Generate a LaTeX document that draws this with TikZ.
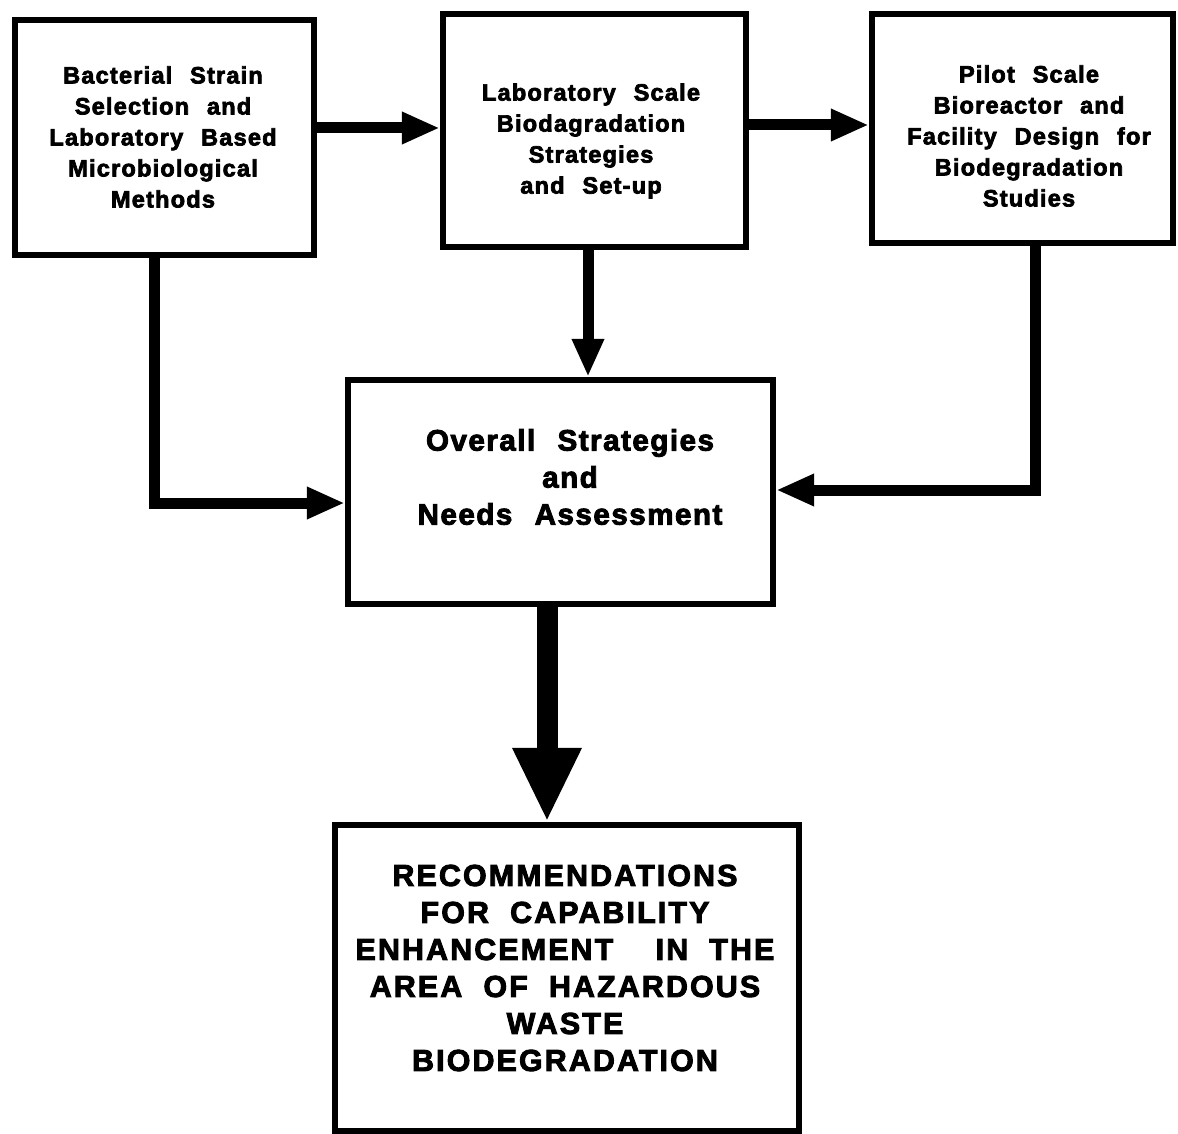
\documentclass[tikz,border=0pt]{standalone}
\usepackage{fontspec}
\usetikzlibrary{arrows.meta}
\newfontfamily\heavy[LetterSpace=5,WordSpace=2.3,BoldFeatures={FakeBold=3}]{Liberation Sans}
\newfontfamily\heavycaps[LetterSpace=7,WordSpace=2,BoldFeatures={FakeBold=3}]{Liberation Sans}
\begin{document}
\begin{tikzpicture}[x=0.5pt,y=-0.5pt,
  box/.style={draw, line width=3.2pt, rectangle, inner sep=0pt},
  txt/.style={align=center, inner sep=0pt},
  small/.style={txt, font=\heavy\bfseries\fontsize{11.8}{15.5}\selectfont},
  mid/.style={txt, font=\heavy\bfseries\fontsize{14.8}{18.5}\selectfont},
  caps/.style={txt, font=\heavycaps\bfseries\fontsize{15.2}{18.5}\selectfont},
  conn/.style={line width=5.5pt, line join=miter, -{Triangle[length=19pt,width=15pt]}},
  bigconn/.style={line width=10.5pt, -{Triangle[length=37pt,width=32pt]}}
]
\useasboundingbox (0,0) rectangle (1178,1134);
\fill[white] (0,0) rectangle (1178,1134);

% boxes
\node[box, minimum width=149.5pt, minimum height=117.5pt] (b1) at (164.5,137.5) {};
\node[box, minimum width=151.5pt, minimum height=116.5pt] (b2) at (594.5,130.5) {};
\node[box, minimum width=150.5pt, minimum height=114.5pt] (b3) at (1022.5,128.5) {};
\node[box, minimum width=212.5pt, minimum height=112pt] (b4) at (560.5,492) {};
\node[box, minimum width=232pt, minimum height=153pt] (b5) at (567,978) {};

% texts
\node[small] (t1) at (163,137) {Bacterial Strain\\Selection and\\Laboratory Based\\Microbiological\\Methods};
\node[small] (t2) at (591,141) {Laboratory Scale\\Biodagradation\\Strategies\\and Set-up};
\node[small] (t3) at (1029,136) {Pilot Scale\\Bioreactor and\\Facility Design for\\Biodegradation\\Studies};
\node[mid] (t4) at (570,477) {Overall Strategies\\and\\Needs Assessment};
\node[caps] (t5) at (565,968) {RECOMMENDATIONS\\FOR CAPABILITY\\ENHANCEMENT\hspace{0.7em} IN THE\\AREA OF HAZARDOUS\\WASTE\\BIODEGRADATION};

% connectors
\draw[conn] (b1.east |- 0,128) -- (b2.west |- 0,128);
\draw[conn] (b2.east |- 0,125) -- (b3.west |- 0,125);
\draw[conn] (b2.south -| 588,0) -- (b4.north -| 588,0);
\draw[conn] (b1.south -| 154,0) |- (b4.west |- 0,503);
\draw[conn] (b3.south -| 1035,0) |- (b4.east |- 0,490);
\draw[bigconn] (b4.south -| 547,0) -- (b5.north -| 547,0);
\end{tikzpicture}
\end{document}
